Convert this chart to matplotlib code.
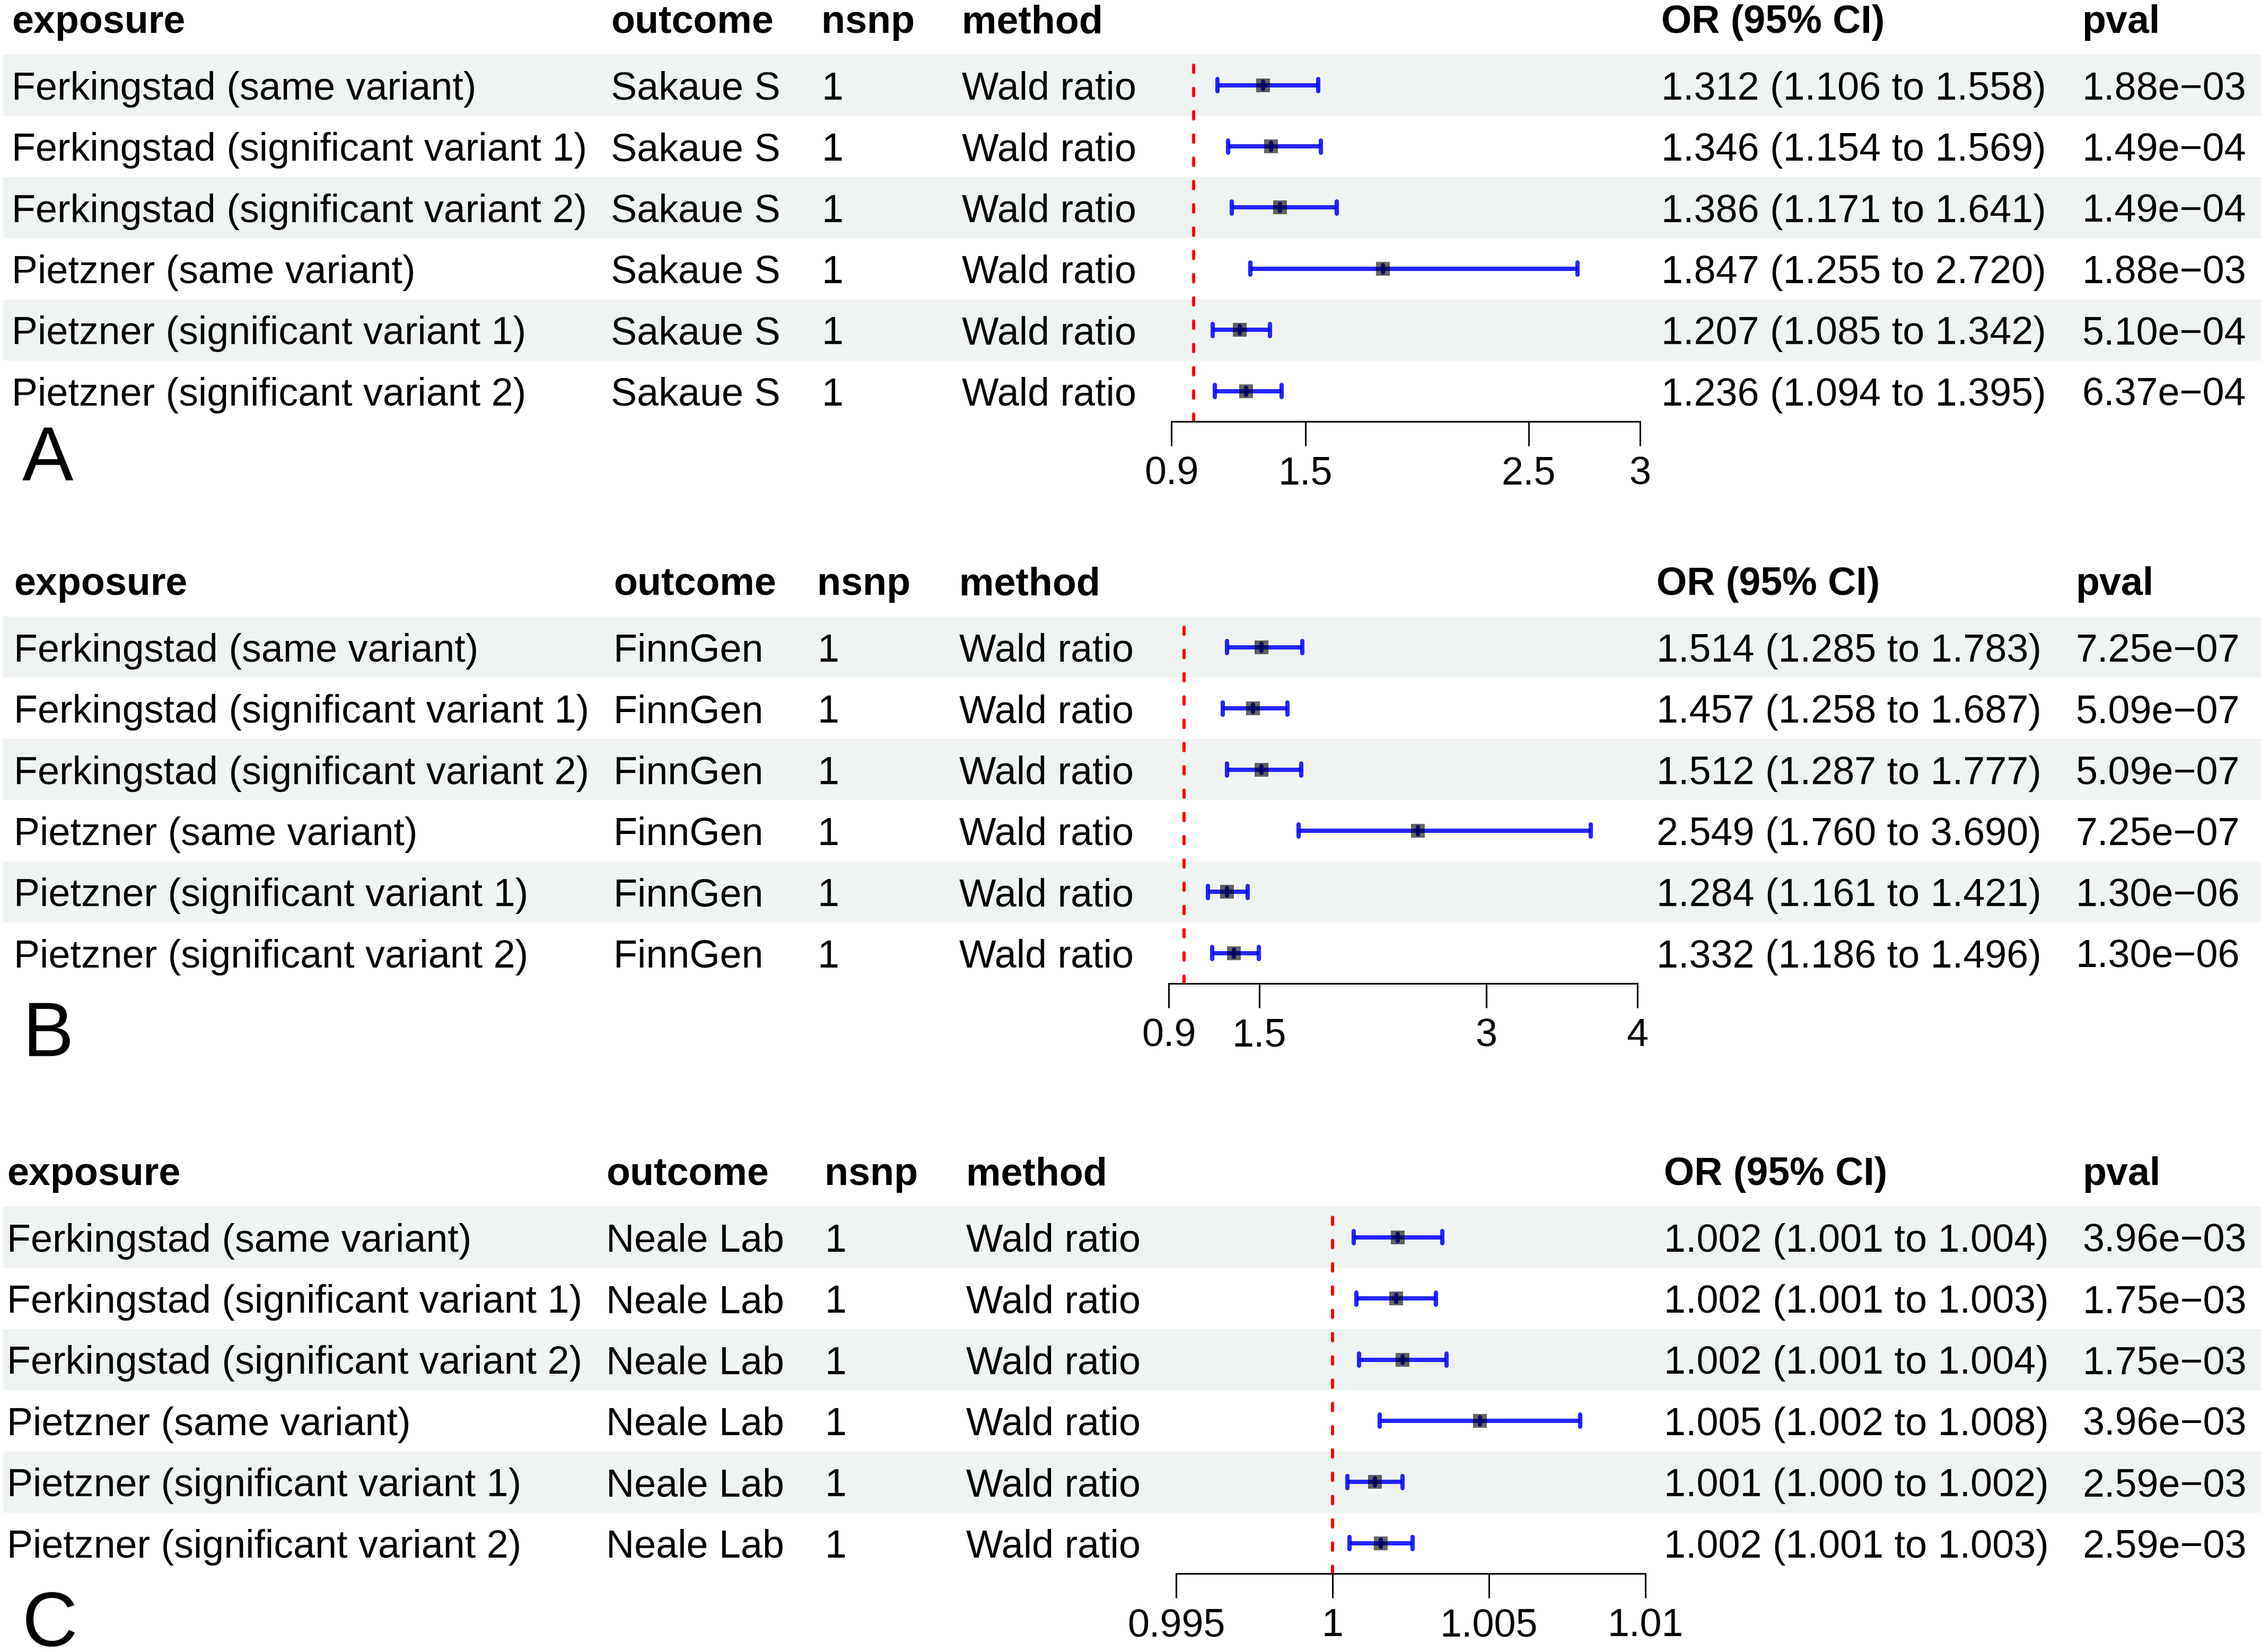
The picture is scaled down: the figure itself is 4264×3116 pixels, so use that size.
import matplotlib
matplotlib.use("Agg")
import matplotlib.pyplot as plt

plt.rcParams['font.family'] = ['Liberation Sans', 'DejaVu Sans']
plt.rcParams['lines.scale_dashes'] = False

# ---- data ----
exposures = [
    "Ferkingstad (same variant)",
    "Ferkingstad (significant variant 1)",
    "Ferkingstad (significant variant 2)",
    "Pietzner (same variant)",
    "Pietzner (significant variant 1)",
    "Pietzner (significant variant 2)",
]
outcomes = ["Sakaue S", "FinnGen", "Neale Lab"]
nsnp = ["1"] * 6
method = ["Wald ratio"] * 6
headers = ["exposure", "outcome", "nsnp", "method", "OR (95% CI)", "pval"]
panel_letters = ["A", "B", "C"]

# panel A - Sakaue S
est_a = [1.312, 1.346, 1.386, 1.847, 1.207, 1.236]
lo_a = [1.106, 1.154, 1.171, 1.255, 1.085, 1.094]
hi_a = [1.558, 1.569, 1.641, 2.720, 1.342, 1.395]
pval_a = ["1.88e-03", "1.49e-04", "1.49e-04", "1.88e-03", "5.10e-04", "6.37e-04"]
ticks_a = [0.9, 1.5, 2.5, 3]
ticklab_a = ["0.9", "1.5", "2.5", "3"]

# panel B - FinnGen
est_b = [1.514, 1.457, 1.512, 2.549, 1.284, 1.332]
lo_b = [1.285, 1.258, 1.287, 1.760, 1.161, 1.186]
hi_b = [1.783, 1.687, 1.777, 3.690, 1.421, 1.496]
pval_b = ["7.25e-07", "5.09e-07", "5.09e-07", "7.25e-07", "1.30e-06", "1.30e-06"]
ticks_b = [0.9, 1.5, 3, 4]
ticklab_b = ["0.9", "1.5", "3", "4"]

# panel C - Neale Lab (plotted values, text as printed)
est_c = [1.00208, 1.00203, 1.00224, 1.00471, 1.00135, 1.00155]
lo_c = [1.00067, 1.00076, 1.00084, 1.00150, 1.00047, 1.00054]
hi_c = [1.00350, 1.00331, 1.00365, 1.00792, 1.00224, 1.00256]
ortxt_c = ["1.002 (1.001 to 1.004)", "1.002 (1.001 to 1.003)", "1.002 (1.001 to 1.004)",
           "1.005 (1.002 to 1.008)", "1.001 (1.000 to 1.002)", "1.002 (1.001 to 1.003)"]
pval_c = ["3.96e-03", "1.75e-03", "1.75e-03", "3.96e-03", "2.59e-03", "2.59e-03"]
ticks_c = [0.995, 1, 1.005, 1.01]
ticklab_c = ["0.995", "1", "1.005", "1.01"]


def or_text(est, lo, hi):
    return [f"{e:.3f} ({l:.3f} to {h:.3f})" for e, l, h in zip(est, lo, hi)]


# ---- layout (pixels) ----
W, H = 4264, 3116
RH = 115.4
FS = 53
BAND = "#eff3f2"
BLUE = "#0000ff"

fig = plt.figure(figsize=(W / 100, H / 100), dpi=100)
bg = fig.add_axes([0, 0, 1, 1])
bg.set_xlim(0, W)
bg.set_ylim(H, 0)
bg.axis('off')


def draw_panel(letter, top, colx, ax_x0, ax_x1, ticks, ticklabs,
               outcome, ortxt, pvals, est, lo, hi):
    # shaded rows
    for i in range(6):
        if i % 2 == 0:
            bg.add_patch(plt.Rectangle((6, top + i * RH), W - 6, RH,
                                       color=BAND, lw=0, zorder=0))
    # header
    for x, h in zip(colx, headers):
        bg.text(x, top - 41, h, fontsize=FS, fontweight='bold',
                ha='left', va='baseline')
    # rows
    for i in range(6):
        yb = top + RH * (i + 0.5) + 27
        vals = [exposures[i], outcome, nsnp[i], method[i], ortxt[i],
                pvals[i].replace("-", "\u2212")]
        for x, v in zip(colx, vals):
            bg.text(x, yb, v, fontsize=FS, ha='left', va='baseline')
    # panel letter
    bg.text(42, top + 803 + (0 if letter == "A" else 26), letter,
            fontsize=104, ha='left', va='baseline')

    # forest
    ax = fig.add_axes([ax_x0 / W, 1 - (top + 6 * RH) / H,
                       (ax_x1 - ax_x0) / W, 6 * RH / H])
    ax.patch.set_alpha(0)
    ax.set_xlim(ticks[0], ticks[-1])
    ax.set_ylim(5.5, -0.5)
    for s in ['top', 'left', 'right']:
        ax.spines[s].set_visible(False)
    ax.spines['bottom'].set_linewidth(2.2)
    ax.set_yticks([])
    ax.set_xticks(ticks)
    ax.set_xticklabels(ticklabs)
    ax.tick_params(axis='x', direction='out', length=33, width=2.2,
                   labelsize=FS, pad=13)

    ax.axvline(1, color='red', lw=4.3, linestyle=(0, (10, 21.6)),
               dash_capstyle='round', zorder=1)
    y = list(range(6))
    ax.hlines(y, lo, hi, color=BLUE, lw=5.8, alpha=0.85, zorder=2, clip_on=False)
    for xs in (lo, hi):
        ax.vlines(xs, [v - 0.1 for v in y], [v + 0.1 for v in y],
                  color=BLUE, lw=5.8, alpha=0.85, zorder=2, clip_on=False,
                  capstyle='round')
    ax.vlines(est, [v - 0.06 for v in y], [v + 0.06 for v in y],
              color=BLUE, lw=5.8, alpha=0.85, zorder=2, clip_on=False,
              capstyle='round')
    ax.scatter(est, y, marker='s', s=19.4 ** 2, color='black', alpha=0.6,
               linewidths=0, zorder=3, clip_on=False)
    return ax


draw_panel("A", 103, [22, 1152, 1549, 1814, 3133, 3926], 2209, 3093,
           ticks_a, ticklab_a, outcomes[0], or_text(est_a, lo_a, hi_a),
           pval_a, est_a, lo_a, hi_a)
draw_panel("B", 1163, [26, 1157, 1541, 1809, 3124, 3914], 2204, 3088,
           ticks_b, ticklab_b, outcomes[1], or_text(est_b, lo_b, hi_b),
           pval_b, est_b, lo_b, hi_b)
draw_panel("C", 2276, [13, 1143, 1555, 1822, 3138, 3927], 2218, 3103,
           ticks_c, ticklab_c, outcomes[2], ortxt_c,
           pval_c, est_c, lo_c, hi_c)

fig.savefig("out.png", dpi=100)
